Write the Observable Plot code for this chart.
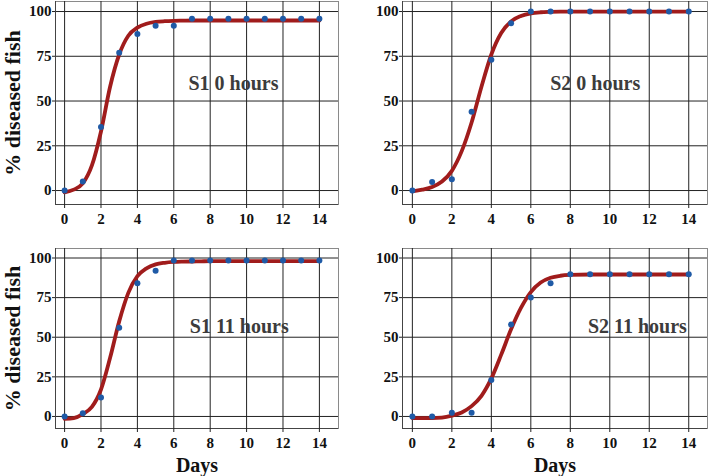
<!DOCTYPE html>
<html><head><meta charset="utf-8">
<script src="https://cdn.jsdelivr.net/npm/d3@7"></script>
<script src="https://cdn.jsdelivr.net/npm/@observablehq/plot@0.6"></script>
<style>
body{margin:0;background:#fff;}
#wrap{position:relative;width:709px;height:476px;background:#fff;overflow:hidden;}
.p{position:absolute;}
</style></head><body><div id="wrap"></div>
<script>
// Observed days
const days = [0,1,2,3,4,5,6,7,8,9,10,11,12,13,14];
// Observed % diseased fish
const s1_0h  = [0,5,35.5,77,87.5,92,92,96,96,96,96,96,96,96,96];
const s2_0h  = [0,4.7,6.3,44,73,93.5,100,100,100,100,100,100,100,100,100];
const s1_11h = [0,2,12,56,84,92,98.5,98.5,98.5,98.5,98.5,98.5,98.5,98.5,98.5];
const s2_11h = [0,0,2.3,2.3,23,58,75,84,89.7,89.7,89.7,89.7,89.7,89.7,89.7];
// Fitted curves
const fitDays = [0,0.5,1,1.5,2,2.5,3,3.5,4,4.5,5,5.5,6,6.5,7,7.5,8,9,10,11,12,13,14];
const fit_s1_0h  = [-1,0.5,4,14,33,58,76,86.5,91,93.2,94.2,94.6,94.8,94.9,95,95,95,95,95,95,95,95,95];
const fit_s2_0h  = [-0.5,0.5,2,5,11,22,38,58,76,88,94.5,97.5,99,99.6,99.8,99.9,100,100,100,100,100,100,100];
const fit_s1_11h = [-1.5,-1,1.5,6,17,37,60,78,88.5,93.5,96,97,97.5,97.7,97.8,97.9,98,98,98,98,98,98,98];
const fit_s2_11h = [-1,-1,-1,-0.7,0.5,2.5,6.5,13,24,39,55,68.5,78.5,84.5,87.5,88.8,89.3,89.6,89.6,89.6,89.6,89.6,89.6];
// Labels and ticks
const panelLabels = ["S1 0 hours","S2 0 hours","S1 11 hours","S2 11 hours"];
const xTicks = [0,2,4,6,8,10,12,14];
const yTicks = [0,25,50,75,100];
const yTitle = "% diseased fish";
const xTitle = "Days";

const FONT = "'Liberation Serif','Times New Roman',serif";

function panel(c) {
  const pts = days.map((d,i)=>({d, v:c.obs[i]}));
  const curve = fitDays.map((d,i)=>({d, v:c.fit[i]}));
  const marks = [
    Plot.frame({stroke:"#8a8a8a"}),
    Plot.gridX(xTicks, {stroke:"#222", strokeOpacity:1, strokeWidth:1}),
    Plot.gridY(yTicks, {stroke:"#222", strokeOpacity:1, strokeWidth:1}),
    Plot.ruleX([c.xDom[0]], {stroke:"#444"}),
    Plot.ruleY([c.yDom[0]], {stroke:"#444"}),
    Plot.axisX(xTicks, {tickSize:4, tickPadding:5, label:null, fontSize:15, fontWeight:"bold", stroke:"#222"}),
    Plot.axisY(yTicks, {tickSize:3, tickPadding:1, label:null, fontSize:15, fontWeight:"bold", stroke:"#222"}),
    Plot.line(curve, {x:"d", y:"v", stroke:"#a01c1c", strokeWidth:3.8, curve:"monotone-x"}),
    Plot.dot(pts, {x:"d", y:"v", r:3, fill:"#1f5aa6"}),
    Plot.text([{x:c.lx, y:c.ly, t:c.label}], {x:"x", y:"y", text:"t", fontSize:20, fontWeight:"bold", fill:"#3c3c3c"})
  ];
  if (c.showY) marks.push(Plot.text([yTitle], {frameAnchor:"left", dx:-43, rotate:-90, textAnchor:"middle", lineAnchor:"middle", fontSize:22, fontWeight:"bold", fill:"#111"}));
  if (c.showX) marks.push(Plot.text([xTitle], {frameAnchor:"bottom", dy:37, textAnchor:"middle", lineAnchor:"middle", fontSize:20, fontWeight:"bold", fill:"#111"}));
  const svg = Plot.plot({
    width:c.w, height:c.h,
    marginLeft:c.mL, marginRight:c.mR, marginTop:c.mT, marginBottom:c.mB,
    x:{domain:c.xDom}, y:{domain:c.yDom},
    style:{fontFamily:FONT, fontWeight:"bold", fontSize:"15px", background:"transparent", color:"#111", overflow:"visible"},
    marks
  });
  const div = document.createElement("div");
  div.className = "p";
  div.style.left = c.left + "px"; div.style.top = c.top + "px";
  div.appendChild(svg);
  document.getElementById("wrap").appendChild(div);
}

panel({obs:s1_0h, fit:fit_s1_0h, label:panelLabels[0], lx:9.28, ly:60,
  left:0, top:0, w:354, h:238, mL:55, mR:16, mT:1, mB:34,
  xDom:[-0.5,15.05], yDom:[-7.8,105.6], showY:true, showX:false});
panel({obs:s2_0h, fit:fit_s2_0h, label:panelLabels[1], lx:9.26, ly:60,
  left:354, top:0, w:355, h:238, mL:48, mR:2, mT:1, mB:34,
  xDom:[-0.5,14.95], yDom:[-7.8,105.6], showY:false, showX:false});
panel({obs:s1_11h, fit:fit_s1_11h, label:panelLabels[2], lx:9.6, ly:57,
  left:0, top:238, w:354, h:238, mL:55, mR:16, mT:10, mB:48,
  xDom:[-0.5,15.05], yDom:[-7.6,106], showY:true, showX:true});
panel({obs:s2_11h, fit:fit_s2_11h, label:panelLabels[3], lx:11.4, ly:57,
  left:354, top:238, w:355, h:238, mL:48, mR:2, mT:10, mB:48,
  xDom:[-0.5,14.95], yDom:[-7.6,106], showY:false, showX:true});
</script></body></html>
